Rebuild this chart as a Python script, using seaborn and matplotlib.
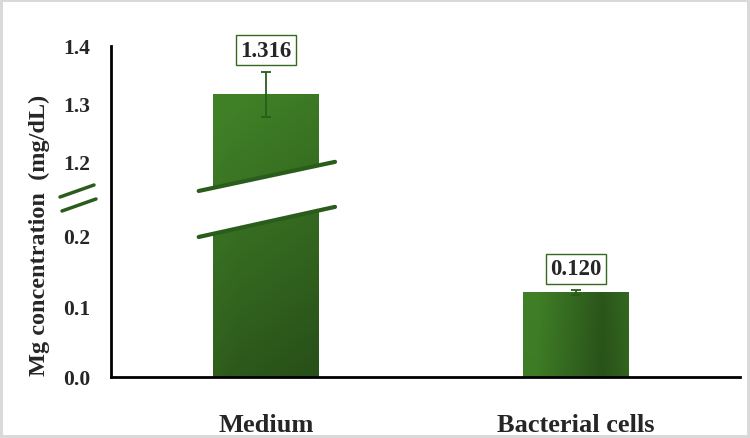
import numpy as np
import pandas as pd
import matplotlib
matplotlib.use("Agg")
import matplotlib.pyplot as plt
import matplotlib.transforms as mtransforms
from matplotlib.lines import Line2D
from matplotlib.patches import Polygon
import seaborn as sns

# data
categories = ["Medium", "Bacterial cells"]
mg_conc = [1.316, 0.120]
mg_err = [0.039, 0.003]
value_labels = ["1.316", "0.120"]
y_ticks = [0.0, 0.1, 0.2, 1.2, 1.3, 1.4]

# broken axis: 0-0.2 and 1.2-1.4 stretched, 0.2-1.2 squeezed
break_vals = [0.0, 0.2, 1.2, 1.4]
break_pix = [0.0, 141.0, 216.0, 331.0]


def fwd(v):
    return np.interp(v, break_vals, break_pix)


def inv(p):
    return np.interp(p, break_pix, break_vals)


sns.set_theme(style="white")
plt.rcParams["font.family"] = ["Liberation Serif", "DejaVu Serif"]
plt.rcParams["font.weight"] = "bold"

green_mid = "#336a1e"
green_dark = "#2a5c1c"

df = pd.DataFrame({"sample": categories, "mg": mg_conc})

fig = plt.figure(figsize=(7.5, 4.39), dpi=100)
fig.patch.set_edgecolor("#d9d9d9")
fig.patch.set_linewidth(4)
ax = fig.add_axes([111 / 750, 1 - 378 / 439, 629 / 750, 331 / 439])

sns.barplot(data=df, x="sample", y="mg", color=green_mid, width=0.34,
            saturation=1, ax=ax)
ax.set_yscale("function", functions=(fwd, inv))
ax.set_ylim(0, 1.4)
ax.set_xlim(-0.5, 1.53)

ax.errorbar(range(len(categories)), mg_conc, yerr=mg_err, fmt="none",
            ecolor=green_dark, elinewidth=1.3, capsize=3.5, capthick=1.3,
            zorder=8)

# gradient fill on the bars (row 0 = top of bar)
light = np.array([0.25, 0.50, 0.15])
dark = np.array([0.16, 0.32, 0.10])
for i, patch in enumerate(ax.patches[:len(categories)]):
    bb = patch.get_window_extent()
    bb = bb.transformed(ax.transAxes.inverted())
    yy, xx = np.mgrid[0:1:100j, 0:1:100j]
    if i == 0:
        t = np.clip(0.9 * yy + 0.25 * xx - 0.1 - 0.3 * np.clip(0.25 - xx, 0, 1) * yy, 0, 1)
    else:
        t = np.clip(1 - np.abs(xx - 0.75) * 1.6, 0, 1) * 0.9 + 0.1 * yy
    img = light[None, None, :] * (1 - t[..., None]) + dark[None, None, :] * t[..., None]
    im = ax.imshow(img, extent=[bb.x0, bb.x1, bb.y0, bb.y1], transform=ax.transAxes,
                   aspect="auto", zorder=patch.get_zorder() + 0.1, interpolation="bilinear")
    im.set_clip_path(patch)

# value labels
for i, (v, e, lab) in enumerate(zip(mg_conc, mg_err, value_labels)):
    ax.annotate(lab, (i, v + e), xytext=(0, 8), textcoords="offset points",
                ha="center", va="bottom", fontsize=16.5, fontweight="bold",
                bbox=dict(boxstyle="square,pad=0.2", fc="white", ec=green_mid, lw=1),
                zorder=9)

# break mark across the tall bar (x in data, y in axes fraction)
trans = mtransforms.blended_transform_factory(ax.transData, ax.transAxes)
x0, x1 = -0.217, 0.223
gap = Polygon([[x0, 0.562], [x1, 0.650], [x1, 0.514], [x0, 0.423]], closed=True,
              fc="white", ec="none", transform=trans, zorder=5)
ax.add_patch(gap)
for ya, yb in [(0.562, 0.650), (0.423, 0.514)]:
    ax.add_line(Line2D([x0, x1], [ya, yb], color=green_dark, lw=3,
                       transform=trans, zorder=6))

# break mark on the y axis
for (xa, ya, xb, yb) in [(60, 198, 94, 186), (62, 212, 96, 200)]:
    fig.add_artist(Line2D([xa / 750, xb / 750], [1 - ya / 439, 1 - yb / 439],
                          color=green_dark, lw=2.5, transform=fig.transFigure))

ax.set_yticks(y_ticks)
ax.set_yticklabels([f"{t:.1f}" for t in y_ticks])
ax.tick_params(axis="y", labelsize=15.5, length=0, pad=15)
ax.tick_params(axis="x", labelsize=19, length=0, pad=26)
for lab in ax.get_xticklabels() + ax.get_yticklabels():
    lab.set_fontweight("bold")

ax.set_xlabel("")
ax.set_ylabel("Mg concentration  (mg/dL)", fontsize=17.5, fontweight="bold")
ax.yaxis.set_label_coords(-0.097, 0.43)

for side in ["top", "right"]:
    ax.spines[side].set_visible(False)
for side in ["left", "bottom"]:
    ax.spines[side].set_color("black")
    ax.spines[side].set_linewidth(2)

fig.savefig("out.png", dpi=100)
